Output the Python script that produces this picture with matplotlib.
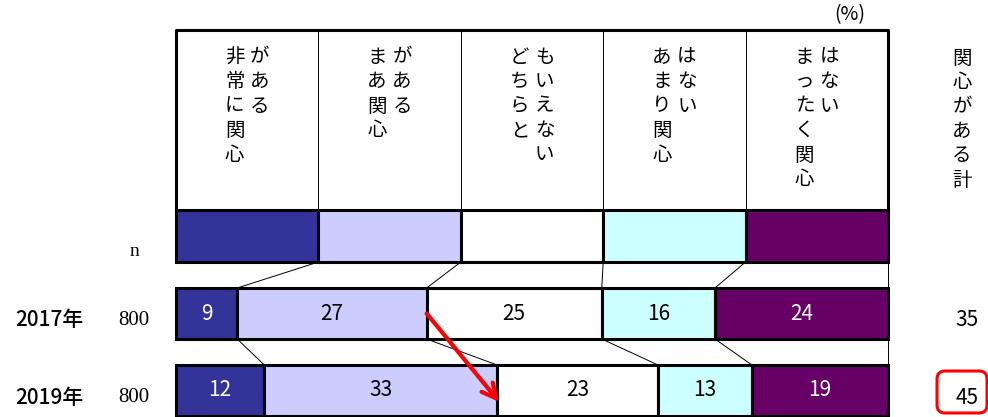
import matplotlib
matplotlib.use('Agg')
import matplotlib.pyplot as plt
from matplotlib.patches import FancyBboxPatch, FancyArrowPatch
import numpy as np

plt.rcParams['font.family'] = ['Noto Sans CJK JP', 'DejaVu Sans']

# data
categories = ['非常に関心がある', 'まあ関心がある', 'どちらともいえない',
              'あまり関心はない', 'まったく関心はない']
header_lines = [['非常に関心', 'がある'], ['まあ関心', 'がある'],
                ['どちらと', 'もいえない'], ['あまり関心', 'はない'],
                ['まったく関心', 'はない']]
colors = ['#333399', '#CCCCFF', '#FFFFFF', '#CCFFFF', '#660066']
text_colors = ['white', 'black', 'black', 'black', 'white']
years = ['2017年', '2019年']
n_counts = [800, 800]
v2017 = [8.6, 26.6, 24.6, 15.9, 24.3]
v2019 = [12.4, 32.7, 22.6, 13.2, 19.1]
total_label = '関心がある計'

def main():
    # setup: 1 unit x = 1 percent, 1 unit y = 1 pixel
    px = 7.12
    x0 = 176
    fig = plt.figure(figsize=(9.88, 4.17), dpi=100)
    ax = fig.add_axes([0, 0, 1, 1])
    ax.set_xlim(-x0 / px, (988 - x0) / px)
    ax.set_ylim(417, 0)
    ax.axis('off')

    thick = 2.2
    thin = 0.7
    fs = 15

    # header box with vertical labels
    ncat = len(categories)
    colw = 100 / ncat
    top, hdr_bot = 30, 210
    for i in range(1, ncat):
        ax.plot([i * colw, i * colw], [top, hdr_bot], color='black', lw=thin)
    ax.plot([0, 0, 100, 100], [hdr_bot, top, top, hdr_bot], color='black', lw=thick)
    for i, lines in enumerate(header_lines):
        xc = (i + 0.5) * colw
        offs = [-12.5 / px, 12.5 / px] if len(lines) == 2 else [0]
        for j, line in enumerate(lines):
            for k, ch in enumerate(line):
                ax.text(xc + offs[j], 57 + k * 24.5, ch, ha='center', va='center',
                        fontsize=14)
    ax.text((850 - x0) / px, 15, '(%)', fontsize=14, ha='center', va='center')

    # total column header
    for k, ch in enumerate(total_label):
        ax.text((962 - x0) / px, 58 + k * 24.4, ch, ha='center', va='center', fontsize=14)

    # legend swatch row
    sw_top, sw_h = 210, 52
    ax.barh(sw_top + sw_h / 2, [colw] * ncat, left=np.arange(ncat) * colw,
            height=sw_h, color=colors, edgecolor='black', linewidth=thick)
    ax.text((134 - x0) / px, 251, 'n', family='Liberation Serif', fontsize=14,
            ha='center', va='center')

    # bars
    bar_tops = [288, 365]
    bar_h = 51
    rows = [v2017, v2019]
    for r, vals in enumerate(rows):
        left = np.concatenate([[0], np.cumsum(vals)[:-1]])
        yc = bar_tops[r] + bar_h / 2
        ax.barh(yc, vals, left=left, height=bar_h, color=colors,
                edgecolor='black', linewidth=thick, zorder=2)
        for i, v in enumerate(vals):
            ax.text(left[i] + v / 2, yc, '%d' % round(v), ha='center', va='center',
                    fontsize=fs, color=text_colors[i], zorder=3)
        ax.text((49 - x0) / px, yc + 7, years[r], ha='center', va='center',
                fontsize=fs, fontweight='medium')
        ax.text((134 - x0) / px, yc + 7, str(n_counts[r]), family='Liberation Serif',
                fontsize=15, ha='center', va='center')
        ax.text((967 - x0) / px, yc + 7, '%d' % round(vals[0] + vals[1]),
                ha='center', va='center', fontsize=fs)

    # connector lines between rows
    sw_bounds = np.arange(1, ncat) * colw
    b17 = np.cumsum(v2017)[:-1]
    b19 = np.cumsum(v2019)[:-1]
    for a, b in zip(sw_bounds, b17):
        ax.plot([a, b], [sw_top + sw_h, bar_tops[0]], color='black', lw=thin, zorder=1)
    for a, b in zip(b17, b19):
        ax.plot([a, b], [bar_tops[0] + bar_h, bar_tops[1]], color='black', lw=thin, zorder=1)
    ax.plot([100, 100], [sw_top + sw_h, bar_tops[1]], color='black', lw=thin, zorder=1)

    # red arrow from 2017 to 2019 "interested" boundary
    arr = FancyArrowPatch((b17[1], bar_tops[0] + bar_h / 2), (b19[1] + 0.3, 402),
                          arrowstyle='->', mutation_scale=26, color='red', lw=3,
                          zorder=5, shrinkA=0, shrinkB=0)
    ax.add_patch(arr)

    # red rounded box round the 2019 total
    bx0, bx1 = (937 - x0) / px, (987 - x0) / px
    box = FancyBboxPatch((bx0, 371), bx1 - bx0, 42,
                         boxstyle='round,pad=0,rounding_size=%f' % (8 / px),
                         mutation_aspect=px, fc='none', ec='red', lw=2.2, zorder=5)
    ax.add_patch(box)

    plt.savefig('out.png', dpi=100)

if __name__ == '__main__':
    main()
